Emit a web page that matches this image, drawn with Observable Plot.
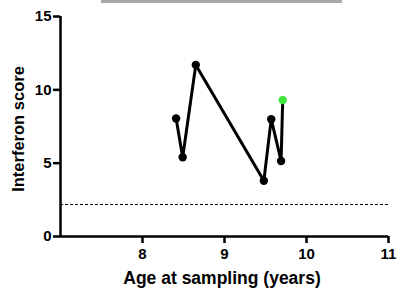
<!DOCTYPE html>
<html>
<head>
<meta charset="utf-8">
<script src="https://cdn.jsdelivr.net/npm/d3@7"></script>
<script src="https://cdn.jsdelivr.net/npm/@observablehq/plot@0.6"></script>
<style>
  html, body { margin: 0; padding: 0; background: #fff; }
  #wrap { position: relative; width: 404px; height: 290px; }
  #bar { position: absolute; left: 101px; top: 0; width: 241px; height: 3px; background: #a9a9a9; }
  svg { font-family: "Liberation Sans", Arial, sans-serif; overflow: visible; }
  svg text { font-weight: bold; fill: #000; }
</style>
</head>
<body>
<div id="wrap"><div id="bar"></div></div>
<script>
const ages = [8.41, 8.49, 8.65, 9.48, 9.57, 9.69, 9.71];
const scores = [8.05, 5.4, 11.7, 3.8, 8.0, 5.15, 9.3];
const highlight = [false, false, false, false, false, false, true];
const threshold = 2.18;
const xTicks = [8, 9, 10, 11];
const yTicks = [0, 5, 10, 15];

const data = ages.map((a, i) => ({age: a, score: scores[i], hi: highlight[i]}));

// pixel scale: 82 px per year, 14.667 px per score unit; frame padded to hold tick marks
const pxX = 82, pxY = 220 / 15;
const tickLen = 7;
const xDomain = [7 - 8 / pxX, 11 + 3 / pxX];
const yDomain = [0 - 8 / pxY, 15 + 3 / pxY];

const chart = Plot.plot({
  width: 404,
  height: 290,
  marginLeft: 52,
  marginRight: 13,
  marginTop: 13,
  marginBottom: 46,
  x: {domain: xDomain, axis: null},
  y: {domain: yDomain, axis: null},
  style: {fontFamily: "Liberation Sans, Arial, sans-serif", background: "white", overflow: "visible"},
  marks: [
    Plot.ruleX(xTicks, {y1: 0, y2: -tickLen / pxY, stroke: "black", strokeWidth: 2.5}),
    Plot.ruleY(yTicks, {x1: 7 - tickLen / pxX, x2: 7, stroke: "black", strokeWidth: 2.5}),
    Plot.text(xTicks, {x: d => d, y: d => 0, dy: 18, text: d => String(d), fontSize: 15, fontWeight: "bold", fill: "black"}),
    Plot.text(yTicks, {x: d => 7, y: d => d, dx: -9, textAnchor: "end", text: d => String(d), fontSize: 15, fontWeight: "bold", fill: "black"}),
    Plot.text(["Age at sampling (years)"], {frameAnchor: "bottom", dy: 39, fontSize: 17.5, fontWeight: "bold", fill: "black"}),
    Plot.text(["Interferon score"], {frameAnchor: "left", textAnchor: "middle", dx: -34, rotate: -90, fontSize: 16.5, fontWeight: "bold", fill: "black"}),
    Plot.ruleX([7], {y1: 0, y2: 15, stroke: "black", strokeWidth: 2.5}),
    Plot.ruleY([0], {x1: 7, x2: 11, stroke: "black", strokeWidth: 2.5}),
    Plot.ruleY([threshold], {x1: 7, x2: 11, stroke: "black", strokeWidth: 1, strokeDasharray: "3,2"}),
    Plot.line(data, {x: "age", y: "score", stroke: "black", strokeWidth: 3}),
    Plot.dot(data, {x: "age", y: "score", r: 4.2, fill: d => d.hi ? "#3ce83c" : "black", stroke: null})
  ]
});
document.getElementById("wrap").appendChild(chart);
</script>
</body>
</html>
